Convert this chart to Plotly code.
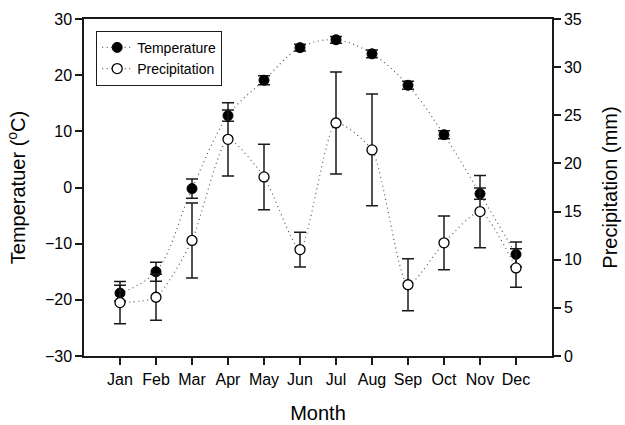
import plotly.graph_objects as go

# Monthly climate means with error bars
months = ["Jan", "Feb", "Mar", "Apr", "May", "Jun",
          "Jul", "Aug", "Sep", "Oct", "Nov", "Dec"]
month_pos = list(range(1, 13))

temperature = [-18.8, -15.0, -0.2, 12.8, 19.1, 24.9, 26.3, 23.8, 18.2, 9.4, -1.1, -11.9]
temperature_err = [1.4, 1.7, 1.7, 1.0, 0.8, 0.6, 0.6, 0.7, 0.7, 0.7, 1.0, 2.2]

precipitation = [5.55, 6.1, 12.0, 22.5, 18.6, 11.05, 24.2, 21.4, 7.4, 11.75, 15.0, 9.15]
precipitation_err = [2.2, 2.4, 3.9, 3.8, 3.4, 1.8, 5.3, 5.8, 2.7, 2.8, 3.75, 2.0]

temp_ticks = [-30, -20, -10, 0, 10, 20, 30]
precip_ticks = [0, 5, 10, 15, 20, 25, 30, 35]

FONT = "Liberation Sans, Arial, sans-serif"
INK = "#1a1a1a"
DOTS = "#5a5a5a"

fig = go.Figure()

fig.add_trace(go.Scatter(
    x=month_pos, y=temperature, name="Temperature",
    mode="lines+markers",
    line=dict(color=DOTS, width=1.2, dash="1px,3.5px", shape="spline", smoothing=1.0),
    marker=dict(symbol="circle", size=10, color="black", line=dict(color="black", width=1)),
    error_y=dict(type="data", array=temperature_err, visible=True,
                 color=INK, thickness=1.5, width=6),
    yaxis="y",
))

fig.add_trace(go.Scatter(
    x=month_pos, y=precipitation, name="Precipitation",
    mode="lines+markers",
    line=dict(color=DOTS, width=1.2, dash="1px,3.5px", shape="spline", smoothing=0.6),
    marker=dict(symbol="circle", size=10, color="white", line=dict(color="black", width=1.3)),
    error_y=dict(type="data", array=precipitation_err, visible=True,
                 color=INK, thickness=1.5, width=6),
    yaxis="y2",
))

axis_common = dict(
    showline=True, linecolor=INK, linewidth=1.5,
    ticks="outside", ticklen=7, tickwidth=1.5, tickcolor=INK,
    showgrid=False, zeroline=False, automargin=False,
    tickfont=dict(family=FONT, size=16, color="black"),
)

fig.update_layout(
    width=625, height=425,
    margin=dict(l=84, r=73, t=19, b=69, autoexpand=False),
    paper_bgcolor="white", plot_bgcolor="white",
    font=dict(family=FONT, color="black"),
    showlegend=True,
    legend=dict(
        x=0.026, y=0.965, xanchor="left", yanchor="top",
        bordercolor=INK, borderwidth=1, bgcolor="white",
        font=dict(family=FONT, size=14, color="black"),
        itemwidth=30, tracegroupgap=0,
    ),
    xaxis=dict(
        range=[0, 13], tickvals=month_pos, ticktext=months,
        mirror=True, ticklabelstandoff=1,
        title=dict(text="Month", font=dict(family=FONT, size=20), standoff=19),
        **axis_common,
    ),
    yaxis=dict(
        range=[-30, 30], tickvals=temp_ticks,
        title=dict(text="Temperatuer (<sup>o</sup>C)", font=dict(family=FONT, size=20), standoff=14),
        **axis_common,
    ),
    yaxis2=dict(
        range=[0, 35], tickvals=precip_ticks,
        overlaying="y", side="right",
        title=dict(text="Precipitation (mm)", font=dict(family=FONT, size=20), standoff=22),
        **axis_common,
    ),
)

fig.write_html("out.html")
